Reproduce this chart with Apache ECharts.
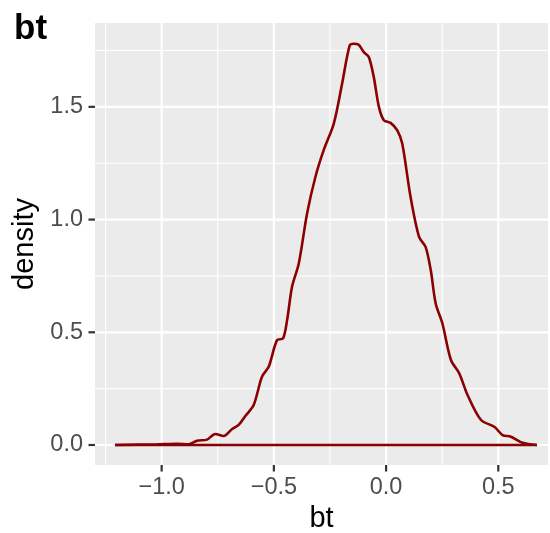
<!DOCTYPE html>
<html>
<head>
<meta charset="utf-8">
<script src="https://cdn.jsdelivr.net/npm/echarts@6/dist/echarts.min.js"></script>
<style>
  html, body { margin: 0; padding: 0; background: #fff; }
  #chart { width: 550px; height: 533px; }
</style>
</head>
<body>
<div id="chart"></div>
<script>
// density estimate of bt
const btValues = [-1.208, -1.021, -0.931, -0.880, -0.842, -0.798, -0.761, -0.724, -0.686, -0.657,
  -0.627, -0.590, -0.553, -0.523, -0.486, -0.459, -0.441, -0.419, -0.389, -0.352,
  -0.315, -0.278, -0.233, -0.196, -0.162, -0.144, -0.122, -0.099, -0.077, -0.055,
  -0.032, -0.010, 0.020, 0.050, 0.072, 0.109, 0.147, 0.176, 0.199, 0.221,
  0.251, 0.289, 0.326, 0.363, 0.423, 0.482, 0.519, 0.556, 0.608, 0.672]
const densityValues = [0, 0.003, 0.005, 0.003, 0.019, 0.024, 0.049, 0.040, 0.071, 0.089,
  0.129, 0.177, 0.303, 0.347, 0.465, 0.473, 0.554, 0.702, 0.805, 1.027,
  1.189, 1.308, 1.426, 1.603, 1.773, 1.780, 1.775, 1.743, 1.721, 1.633,
  1.500, 1.441, 1.429, 1.396, 1.337, 1.101, 0.923, 0.879, 0.776, 0.628,
  0.539, 0.377, 0.318, 0.222, 0.111, 0.081, 0.044, 0.037, 0.010, 0]

const xMajor = [-1.0, -0.5, 0.0, 0.5]
const xMinor = [-1.25, -0.75, -0.25, 0.25]
const yMajor = [0.0, 0.5, 1.0, 1.5]
const yMinor = [0.25, 0.75, 1.25, 1.75]

const xRange = [-1.297, 0.7215]
const yRange = [-0.0887, 1.872]

const chart = echarts.init(document.getElementById('chart'))

const RED = '#8B0000'
const axisText = { color: '#4D4D4D', fontSize: 23.5, fontFamily: 'Liberation Sans' }
const nameText = { color: '#000', fontSize: 29, fontFamily: 'Liberation Sans' }

// white panel grid lines as plain line series so they sit under the curve
const vLine = (v, w) => ({
  type: 'line', silent: true, showSymbol: false, z: 2,
  data: [[v, yRange[0]], [v, yRange[1]]],
  lineStyle: { color: '#ffffff', width: w }
})
const hLine = (v, w) => ({
  type: 'line', silent: true, showSymbol: false, z: 2,
  data: [[xRange[0], v], [xRange[1], v]],
  lineStyle: { color: '#ffffff', width: w }
})

const option = {
  animation: false,
  backgroundColor: '#ffffff',
  title: {
    text: 'bt',
    left: 9,
    top: 7,
    textStyle: { color: '#000', fontSize: 35, fontWeight: 'bold', fontFamily: 'Liberation Sans' }
  },
  grid: {
    left: 95, top: 23, width: 453, height: 442,
    show: true, backgroundColor: '#EBEBEB', borderWidth: 0,
    containLabel: false, outerBoundsMode: 'none'
  },
  xAxis: {
    type: 'value',
    min: xRange[0], max: xRange[1],
    name: 'bt', nameLocation: 'middle', nameGap: 37,
    nameTextStyle: nameText,
    axisLine: { show: false },
    axisTick: { show: false },
    axisLabel: {
      customValues: xMajor, margin: 11, ...axisText,
      formatter: v => (v < 0 ? '\u2212' : '') + Math.abs(v).toFixed(1)
    },
    splitLine: { show: false }
  },
  yAxis: {
    type: 'value',
    min: yRange[0], max: yRange[1],
    name: 'density', nameLocation: 'middle', nameGap: 54, nameRotate: 90,
    nameTextStyle: nameText,
    axisLine: { show: false },
    axisTick: { show: false },
    axisLabel: {
      customValues: yMajor, margin: 12, ...axisText,
      formatter: v => v.toFixed(1)
    },
    splitLine: { show: false }
  },
  series: [
    ...xMinor.map(v => vLine(v, 1.1)),
    ...yMinor.map(v => hLine(v, 1.1)),
    ...xMajor.map(v => vLine(v, 2.2)),
    ...yMajor.map(v => hLine(v, 2.2)),
    {
      name: 'baseline',
      type: 'line',
      data: [[btValues[0], 0], [btValues[btValues.length - 1], 0]],
      showSymbol: false,
      lineStyle: { color: RED, width: 2.6 },
      z: 10
    },
    {
      name: 'density',
      type: 'line',
      data: btValues.map((x, i) => [x, densityValues[i]]),
      smooth: 0.3,
      showSymbol: false,
      lineStyle: { color: RED, width: 2.6 },
      z: 11
    }
  ]
}

chart.setOption(option)

// axis ticks placed through the chart's own scales
const tickLen = 6.5
const tickStyle = { stroke: '#333333', lineWidth: 2.2 }
const ticks = []
xMajor.forEach(v => {
  const [px, py] = chart.convertToPixel({ gridIndex: 0 }, [v, yRange[0]])
  ticks.push({ type: 'line', silent: true, shape: { x1: px, y1: py, x2: px, y2: py + tickLen }, style: tickStyle })
})
yMajor.forEach(v => {
  const [px, py] = chart.convertToPixel({ gridIndex: 0 }, [xRange[0], v])
  ticks.push({ type: 'line', silent: true, shape: { x1: px - tickLen, y1: py, x2: px, y2: py }, style: tickStyle })
})
chart.setOption({ graphic: ticks })
</script>
</body>
</html>
